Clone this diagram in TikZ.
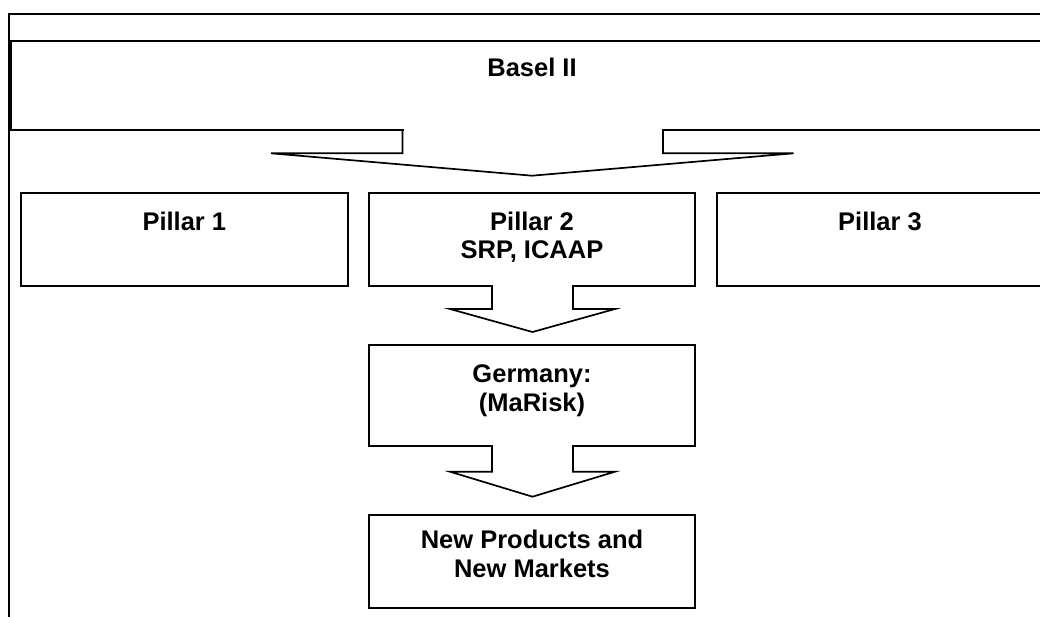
\documentclass[tikz,border=0pt]{standalone}
\usepackage{fontspec}
\setmainfont{Liberation Sans}
\begin{document}
\begin{tikzpicture}[x=1pt,y=-1pt,
  box/.style={draw=black, line width=1.7pt, fill=white, rectangle, inner sep=0pt, outer sep=0pt, anchor=north west},
  lbl/.style={font=\fontsize{25.5pt}{28.5pt}\selectfont\bfseries, inner sep=0pt, anchor=north, align=center},
  blockarrow/.style={draw=black, line width=1.7pt, line join=miter},
]
\useasboundingbox (0,0) rectangle (1040,617);
\clip (0,0) rectangle (1040,617);
% outer frame
\node[box, minimum width=1070pt, minimum height=640pt] (frame) at (9,14) {};
% boxes
\node[box, minimum width=1042pt, minimum height=89pt] (basel) at (11,41) {};
\node[box, minimum width=327.3pt, minimum height=93.3pt] (p1) at (20.7,192.7) {};
\node[box, minimum width=326pt, minimum height=93.3pt] (p2) at (369,192.7) {};
\node[box, minimum width=326pt, minimum height=93.3pt] (p3) at (717,192.7) {};
\node[box, minimum width=326pt, minimum height=101pt] (de) at (369,345) {};
\node[box, minimum width=326pt, minimum height=93pt] (np) at (369,515) {};
% labels
\node[lbl] (tbasel) at ([yshift=-17.3pt]basel.north) {Basel II};
\node[lbl] (tp1) at ([yshift=-19pt]p1.north) {Pillar 1};
\node[lbl] (tp2) at ([yshift=-19pt]p2.north) {Pillar 2\\SRP, ICAAP};
\node[lbl] (tp3) at ([yshift=-19pt]p3.north) {Pillar 3};
\node[lbl] (tde) at ([yshift=-19.6pt]de.north) {Germany:\\(MaRisk)};
\node[lbl] (tnp) at ([yshift=-15pt]np.north) {New Products and\\New Markets};
% big block arrow: Basel II -> pillars
\fill[white] (403.5,126) rectangle (662,154);
\draw[blockarrow] (402.5,0 |- basel.south) -- (402.5,153.3) -- (271,153.3) -- (532,175.7)
  -- (793.5,153.3) -- (663,153.3) -- (663,0 |- basel.south);
% block arrow: Pillar 2 -> Germany
\fill[white] (493,281) rectangle (572,310);
\draw[blockarrow] (492,0 |- p2.south) -- (492,309) -- (450,309) -- (532.5,332)
  -- (615,309) -- (573,309) -- (573,0 |- p2.south);
% block arrow: Germany -> New Products
\fill[white] (493,441) rectangle (572,472);
\draw[blockarrow] (492,0 |- de.south) -- (492,471.7) -- (450,471.7) -- (532.5,496.7)
  -- (615,471.7) -- (573,471.7) -- (573,0 |- de.south);
\end{tikzpicture}
\end{document}
